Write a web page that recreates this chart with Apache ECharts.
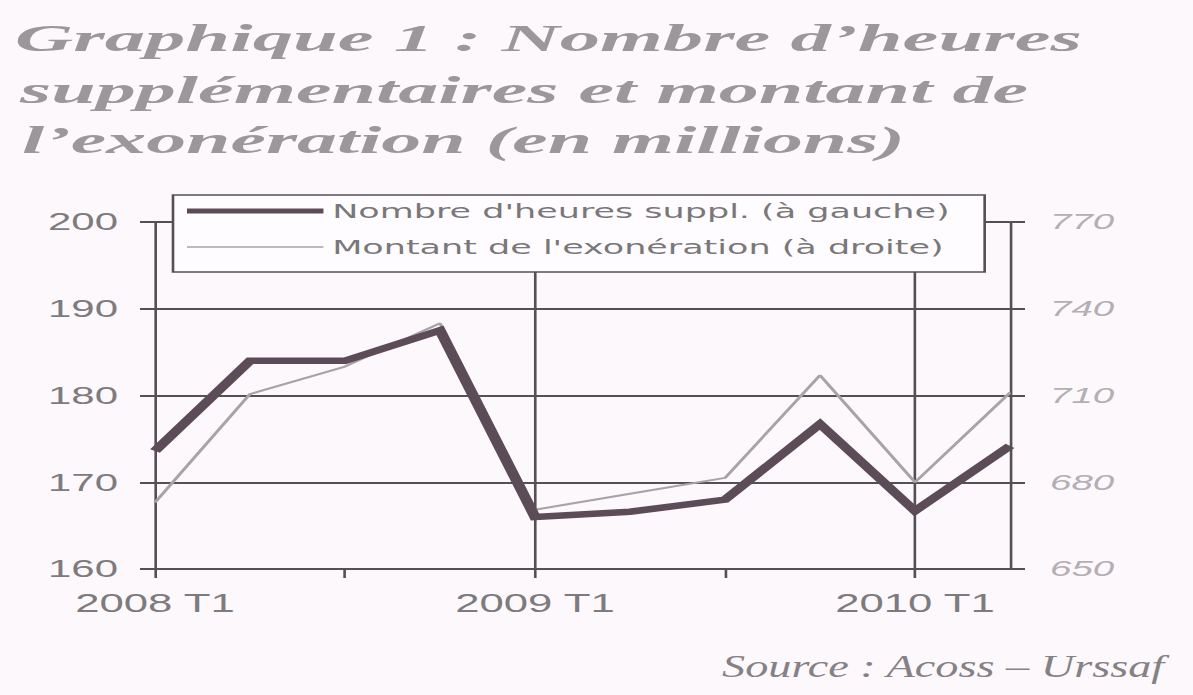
<!DOCTYPE html>
<html><head><meta charset="utf-8">
<script src="https://cdn.jsdelivr.net/npm/echarts@6/dist/echarts.min.js"></script>
<style>
html,body{margin:0;padding:0;background:#fcf8fc;overflow:hidden;}
#wrap{width:1193px;height:695px;overflow:hidden;position:relative;background:#fcf8fc;}
#chart{position:absolute;left:0;top:0;height:695px;transform-origin:0 0;}
</style></head><body>
<div id="wrap"><div id="chart"></div></div>
<script>
// ---- data ----
const categories = ['2008 T1','2008 T2','2008 T3','2008 T4','2009 T1','2009 T2','2009 T3','2009 T4','2010 T1','2010 T2'];
const heuresSuppl = [173.6, 184, 184, 187.5, 166, 166.6, 168, 176.7, 166.7, 174.2];
const montantExoneration = [673, 710.5, 720, 735, 670.5, 676, 681.5, 717, 680, 711];
const leftAxisRange = [160, 200, 10];
const rightAxisRange = [650, 770, 30];
const seriesNames = ["Nombre d'heures suppl. (à gauche)", "Montant de l'exonération (à droite)"];
const titleLines = ['Graphique 1 : Nombre d’heures', 'supplémentaires et montant de', 'l’exonération (en millions)'];
const sourceText = 'Source : Acoss – Urssaf';

// ---- layout (horizontal stretch of the scanned original) ----
const W = 682;
const S = 1193 / W;
const el = document.getElementById('chart');
el.style.width = W + 'px';
el.style.transform = 'scaleX(' + S + ')';

const ctx = document.createElement('canvas').getContext('2d');
function measure(t, font){ ctx.font = font; return ctx.measureText(t).width; }

const titleFont = 'italic bold 37px "Liberation Serif"';
const titleLayout = [[15, 1067, 39], [20, 1008, 90], [22, 883, 141]];
const sourceFont = 'italic 32px "Liberation Serif"';
const sourceLayout = [722, 443, 667];

const graphics = titleLines.map((t, i) => ({
  type: 'text', silent: true,
  x: titleLayout[i][0] / S, y: titleLayout[i][2],
  scaleX: titleLayout[i][1] / (measure(t, titleFont) * S),
  style: { text: t, font: titleFont, fill: '#9b979b', verticalAlign: 'middle' }
}));
graphics.push({
  type: 'text', silent: true,
  x: sourceLayout[0] / S, y: sourceLayout[2],
  scaleX: sourceLayout[1] / (measure(sourceText, sourceFont) * S),
  style: { text: sourceText, font: sourceFont, fill: '#858185', verticalAlign: 'middle' }
});

const thickCol = '#5c4c58';
const thinCol = '#a7a3a7';
const chart = echarts.init(el, null, { renderer: 'svg', width: W, height: 695 });
const axisCol = '#555055';
chart.setOption({
  backgroundColor: '#fcf8fc',
  animation: false,
  grid: { left: 155 / S, right: 183 / S, top: 222, bottom: 126, containLabel: false, outerBoundsMode: 'none' },
  legend: {
    orient: 'vertical', left: 173 / S, top: 195,
    padding: [4, 8, 13, 8], itemGap: 12, itemWidth: 78, itemHeight: 14,
    symbolKeepAspect: true,
    backgroundColor: '#fefcfe', borderColor: axisCol, borderWidth: 1.5, borderRadius: 0,
    textStyle: { fontFamily: 'DejaVu Sans', fontSize: 20, color: '#7a777a', width: 365, lineHeight: 24 },
    data: [
      { name: seriesNames[0], icon: 'path://M0,0H78V5H0Z', itemStyle: { color: thickCol } },
      { name: seriesNames[1], icon: 'path://M0,0H78V1.4H0Z', itemStyle: { color: thinCol } }
    ],
    z: 10
  },
  xAxis: {
    type: 'category', data: categories, boundaryGap: false,
    axisLine: { show: true, lineStyle: { color: axisCol, width: 2 } },
    axisTick: { show: true, length: 9, interval: (i) => i % 2 === 0 && i < 9, lineStyle: { color: axisCol, width: 1.5 } },
    splitLine: { show: true, interval: (i) => i === 4 || i === 8, lineStyle: { color: axisCol, width: 1.5 } },
    axisLabel: { interval: (i) => i % 4 === 0, margin: 22, fontFamily: 'Liberation Sans', fontSize: 25, color: '#7e7b7e' }
  },
  yAxis: [
    {
      type: 'value', position: 'left', min: leftAxisRange[0], max: leftAxisRange[1], interval: leftAxisRange[2],
      axisLine: { show: true, lineStyle: { color: axisCol, width: 1.5 } },
      axisTick: { show: true, length: 15 / S, lineStyle: { color: axisCol, width: 2 } },
      splitLine: { show: true, lineStyle: { color: axisCol, width: 2 } },
      axisLabel: { margin: 37 / S, fontFamily: 'Liberation Sans', fontSize: 24, color: '#7e7b7e' }
    },
    {
      type: 'value', position: 'right', min: rightAxisRange[0], max: rightAxisRange[1], interval: rightAxisRange[2],
      axisLine: { show: true, lineStyle: { color: axisCol, width: 1.5 } },
      axisTick: { show: true, length: 15 / S, lineStyle: { color: axisCol, width: 2 } },
      splitLine: { show: false },
      axisLabel: { margin: 40 / S, fontFamily: 'Liberation Sans', fontStyle: 'italic', fontSize: 22, color: '#b3afb3' }
    }
  ],
  series: [
    { name: seriesNames[0], type: 'line', yAxisIndex: 0, data: heuresSuppl, symbol: 'none', showSymbol: false, z: 4,
      lineStyle: { color: thickCol, width: 6.5, join: 'miter' }, itemStyle: { color: thickCol } },
    { name: seriesNames[1], type: 'line', yAxisIndex: 1, data: montantExoneration, symbol: 'none', showSymbol: false, z: 3,
      lineStyle: { color: thinCol, width: 2 }, itemStyle: { color: thinCol } }
  ],
  graphic: graphics
});
</script>
</body></html>
